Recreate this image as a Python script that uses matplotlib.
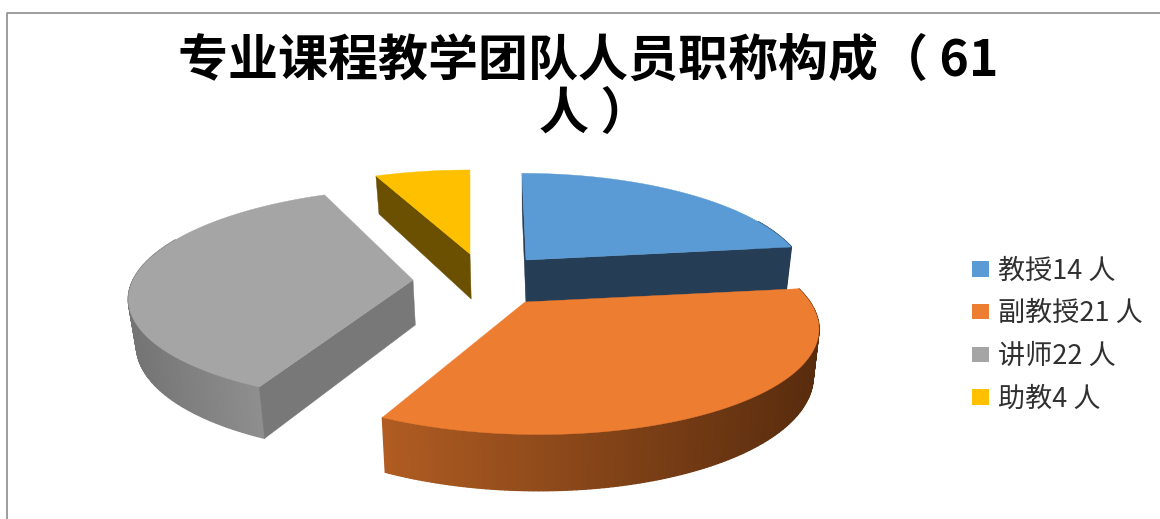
import numpy as np
import matplotlib.pyplot as plt
from matplotlib.colors import LinearSegmentedColormap
from matplotlib.patches import Patch

plt.rcParams['font.family'] = ['Noto Sans CJK SC', 'DejaVu Sans']

# data
title_lines = ["专业课程教学团队人员职称构成（ 61", "人 ）"]
labels = ["教授14 人", "副教授21 人", "讲师22 人", "助教4 人"]
counts = [14, 21, 22, 4]

# colours: top face, straight wall, curved wall left/right
top_cols = ["#5B9BD5", "#ED7D31", "#A5A5A5", "#FFC000"]
wall_cols = ["#253D55", "#8F4A1A", "#787878", "#6A5000"]
arc_cols = [("#253D55", "#253D55"), ("#B05C22", "#582C0E"),
            ("#747474", "#9C9C9C"), ("#6A5000", "#6A5000")]

# exploded slices: apex in pixels, radius and the 3d look of each one
apex = [(526, 260), (525, 302), (413, 280), (470, 254)]
radius = [275, 285, 280, 278]
tilt = [104, 106, 104.7, 100.8]
persp = [0.2, 0.2, 0.139, 0.2]
skew = [-4, -14, 12, 0]
depth = 45
vanish_x = 530
shrink = 0.98
# which cut faces can be seen: start edge, end edge
show_cut = [(True, True), (False, False), (True, False), (True, False)]


def top_xy(i, ang):
    u, v = np.cos(ang), np.sin(ang)
    s = 1 / (1 + persp[i] * v)
    return (apex[i][0] + radius[i] * u * s + skew[i] * v,
            apex[i][1] - tilt[i] * v * s)


def bottom_xy(i, ang):
    x, y = top_xy(i, ang)
    s = 1 / (1 + persp[i] * np.sin(ang))
    return vanish_x + (x - vanish_x) * shrink, y + depth * s


fig = plt.figure(figsize=(11.6, 5.19), dpi=100)
ax = fig.add_axes([0, 0, 1, 1])
ax.set_xlim(0, 1160)
ax.set_ylim(519, 0)
ax.axis("off")

# chart frame, only top and left are inside the picture
ax.plot([1160, 6.5, 6.5], [12.5, 12.5, 519], color="#8C8C8C", lw=1.2)

edges = np.deg2rad(90 - np.cumsum([0] + counts) * 360 / sum(counts))

for i in [3, 0, 2, 1]:
    c = apex[i]
    a0, a1 = edges[i], edges[i + 1]
    ang = np.linspace(a0, a1, 160)
    tx, ty = top_xy(i, ang)
    bx, by = bottom_xy(i, ang)
    base = (vanish_x + (c[0] - vanish_x) * shrink, c[1] + depth)

    # curved wall, shaded along x in thin strips, back part is hidden
    cmap = LinearSegmentedColormap.from_list("w", arc_cols[i])
    xmin, xmax = tx.min(), tx.max()
    for j in range(len(ang) - 1):
        if np.sin(ang[j]) > 0.4:
            continue
        t = ((tx[j] + tx[j + 1]) / 2 - xmin) / (xmax - xmin)
        ax.fill([tx[j], tx[j + 1], bx[j + 1], bx[j]],
                [ty[j], ty[j + 1], by[j + 1], by[j]],
                color=cmap(t), lw=1.0)

    # straight walls
    for a, show in zip([a0, a1], show_cut[i]):
        if show:
            x1, y1 = top_xy(i, a)
            x2, y2 = bottom_xy(i, a)
            ax.fill([c[0], x1, x2, base[0]], [c[1], y1, y2, base[1]],
                    color=wall_cols[i], lw=0.3)

    # top face
    ax.fill(np.r_[c[0], tx], np.r_[c[1], ty], color=top_cols[i], lw=0.3)

ax.text(588, 61, title_lines[0], ha="center", va="center", fontsize=36,
        fontweight="bold", color="black")
ax.text(595, 114, title_lines[1], ha="center", va="center", fontsize=36,
        fontweight="bold", color="black")

handles = [Patch(color=col, lw=0) for col in top_cols]
ax.legend(handles, labels, loc="center left",
          bbox_to_anchor=(972 / 1160, 1 - 335 / 519), frameon=False,
          fontsize=19.5, handlelength=0.63, handleheight=0.5,
          handletextpad=0.32, labelspacing=0.58, borderpad=0,
          borderaxespad=0, labelcolor="#303030")

fig.savefig("out.png", dpi=100)
